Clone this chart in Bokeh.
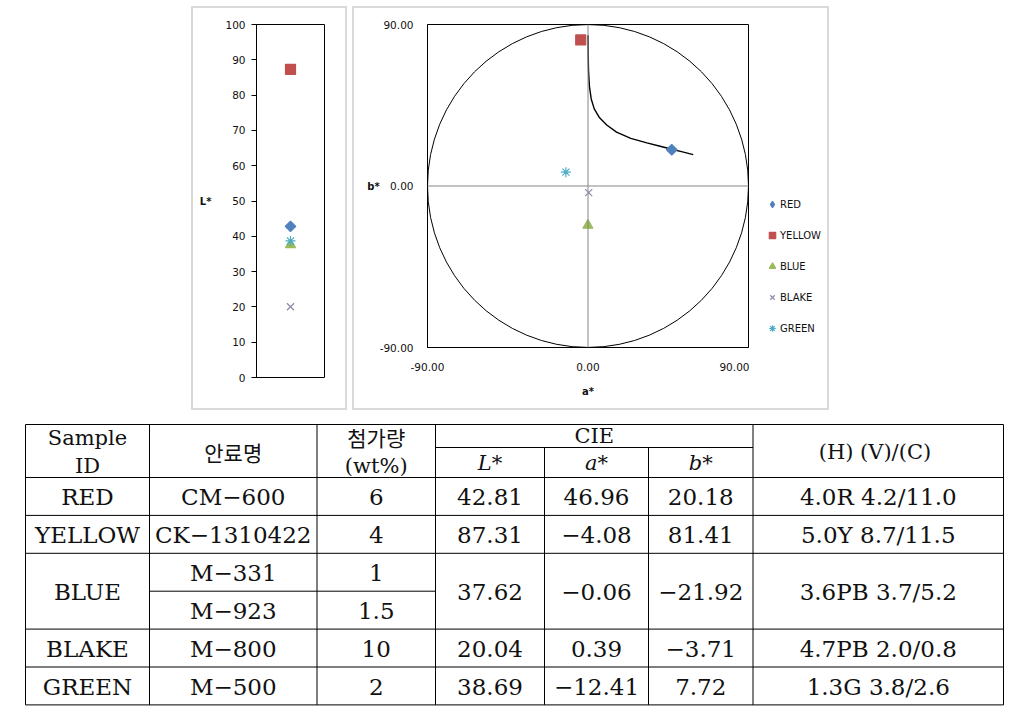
import math
from bokeh.plotting import figure
from bokeh.models import (Range1d, FixedTicker, NumeralTickFormatter, Span,
                          Legend, LegendItem, Spacer)
from bokeh.layouts import column, row
from bokeh.embed import file_html
from bokeh.resources import INLINE
from bokeh.core.properties import value

# ---------------- data ----------------
samples = ["RED", "YELLOW", "BLUE", "BLAKE", "GREEN"]
L_star = [42.81, 87.31, 37.62, 20.04, 38.69]
a_star = [46.96, -4.08, -0.06, 0.39, -12.41]
b_star = [20.18, 81.41, -21.92, -3.71, 7.72]
munsell = ["4.0R 4.2/11.0", "5.0Y 8.7/11.5", "3.6PB 3.7/5.2", "4.7PB 2.0/0.8", "1.3G 3.8/2.6"]
pigments = [["CM-600"], ["CK-1310422"], ["M-331", "M-923"], ["M-800"], ["M-500"]]
amounts = [["6"], ["4"], ["1", "1.5"], ["10"], ["2"]]

hue_a = [0.0, 0.1, 0.3, 0.8, 1.8, 3.5, 6.5, 10.5, 16.0, 24.0, 33.0, 41.0, 47.0, 53.0, 59.0]
hue_b = [84.0, 74.0, 64.0, 55.5, 48.5, 43.0, 38.0, 34.0, 30.0, 26.5, 24.0, 22.0, 20.5, 19.0, 17.5]

chroma_max = 90
L_ticks = [0, 10, 20, 30, 40, 50, 60, 70, 80, 90, 100]
ab_ticks = [-90, 0, 90]

# ---------------- styles ----------------
# RED is drawn as an Excel-style diamond (a square turned by 45 degrees)
markers = ["square", "square", "triangle", "x", "asterisk"]
legend_markers = ["diamond", "square", "triangle", "x", "asterisk"]
mangles = [math.pi / 4, 0, 0, 0, 0]
mcolors = ["#4F81BD", "#C0504D", "#9BBB59", "#8F88A8", "#4BACC6"]
msizes = [7.5, 10, 10, 10, 10]
SANS = "DejaVu Sans"
SERIF = "DejaVu Serif"
panel_style = {"outline": "2px solid #d9d9d9", "outline-offset": "-2px"}
TXT = "#111111"


def minus(s):
    return s.replace("-", "\u2212")


def horizontal_label(ax):
    if "axis_label_orientation" in ax.properties():
        ax.axis_label_orientation = "horizontal"


def add_marker(fig, x, y, i, legend_style=False):
    if legend_style:
        return fig.scatter(x=x, y=y, marker=legend_markers[i], size=msizes[i],
                           fill_color=mcolors[i], line_color=mcolors[i], line_width=1.2)
    return fig.scatter(x=x, y=y, marker=markers[i], size=msizes[i], angle=mangles[i],
                       fill_color=mcolors[i], line_color=mcolors[i], line_width=1.2)


# ---------------- L* chart ----------------
fL = figure(width=156, height=404, x_range=Range1d(0, 2), y_range=Range1d(0, 100),
            output_backend="svg", toolbar_location=None,
            min_border_left=65, min_border_right=23, min_border_top=18, min_border_bottom=33,
            border_fill_color=None, styles=panel_style)
fL.xaxis.visible = False
fL.grid.visible = False
fL.outline_line_color = "black"
fL.outline_line_width = 1
ya = fL.yaxis[0]
ya.ticker = FixedTicker(ticks=L_ticks)
ya.minor_tick_line_color = None
ya.major_tick_out = 5
ya.major_tick_in = 0
ya.axis_line_color = "black"
ya.major_tick_line_color = "black"
ya.major_label_standoff = 6
ya.major_label_text_font = SANS
ya.major_label_text_font_size = "10.5px"
ya.major_label_text_color = TXT
ya.axis_label = "L*"
horizontal_label(ya)
ya.axis_label_standoff = 11
ya.axis_label_text_font = SANS
ya.axis_label_text_font_size = "10px"
ya.axis_label_text_font_style = "bold"
ya.axis_label_text_color = TXT
for i in range(len(samples)):
    add_marker(fL, [1], [L_star[i]], i)

# ---------------- a*b* chart ----------------
fR = figure(width=397, height=404, x_range=Range1d(-90, 90), y_range=Range1d(-90, 90),
            output_backend="svg", toolbar_location=None,
            min_border_left=75, min_border_right=1, min_border_top=18, min_border_bottom=63,
            border_fill_color=None)
fR.grid.visible = False
fR.outline_line_color = "black"
fR.outline_line_width = 1
for ax in (fR.xaxis[0], fR.yaxis[0]):
    ax.ticker = FixedTicker(ticks=ab_ticks)
    ax.formatter = NumeralTickFormatter(format="0.00")
    ax.major_tick_line_color = None
    ax.minor_tick_line_color = None
    ax.major_tick_out = 0
    ax.major_tick_in = 0
    ax.axis_line_color = "black"
    ax.major_label_text_font = SANS
    ax.major_label_text_font_size = "10.5px"
    ax.major_label_text_color = TXT
    ax.axis_label_text_font = SANS
    ax.axis_label_text_font_size = "10px"
    ax.axis_label_text_font_style = "bold"
    ax.axis_label_text_color = TXT
fR.xaxis[0].major_label_standoff = 15
fR.yaxis[0].major_label_standoff = 14
fR.xaxis[0].axis_label = "a*"
fR.xaxis[0].axis_label_standoff = 12
fR.yaxis[0].axis_label = "b*"
horizontal_label(fR.yaxis[0])
fR.yaxis[0].axis_label_standoff = -3

fR.add_layout(Span(location=0, dimension="width", line_color="#868686", line_width=1))
fR.add_layout(Span(location=0, dimension="height", line_color="#868686", line_width=1))
fR.ellipse(x=[0], y=[0], width=[2 * chroma_max], height=[2 * chroma_max],
           fill_color=None, line_color="black", line_width=1)
fR.line(hue_a, hue_b, line_color="black", line_width=1.4)

for i in range(len(samples)):
    add_marker(fR, [a_star[i]], [b_star[i]], i)

# legend strip to the right of the plot area (same series styles)
fLeg = figure(width=80, height=404, x_range=Range1d(1000, 1001), y_range=Range1d(1000, 1001),
              output_backend="svg", toolbar_location=None, min_border=0,
              x_axis_type=None, y_axis_type=None, border_fill_color=None,
              background_fill_color=None)
fLeg.grid.visible = False
fLeg.outline_line_color = None
items = []
for i in range(len(samples)):
    r = add_marker(fLeg, [a_star[i]], [b_star[i]], i, legend_style=True)
    items.append(LegendItem(label=samples[i], renderers=[r]))
legend = Legend(items=items, location=(15, 11), orientation="vertical",
                glyph_width=16, glyph_height=16, label_height=16, spacing=15,
                padding=0, margin=0, label_standoff=0,
                border_line_color=None, background_fill_alpha=0,
                label_text_font=SANS, label_text_font_size="10px",
                label_text_color=TXT, label_text_baseline="middle")
fLeg.add_layout(legend)

right_panel = row(fR, fLeg, styles=panel_style)

# ---------------- table ----------------
fT = figure(width=1010, height=298, x_range=Range1d(0, 1010), y_range=Range1d(708, 410),
            output_backend="svg", toolbar_location=None, min_border=0,
            x_axis_type=None, y_axis_type=None, border_fill_color=None)
fT.grid.visible = False
fT.outline_line_color = None

col_x = [25, 149, 316.5, 435, 544, 648, 752.5, 1003]
t_top, t_cie, t_head = 424, 447, 477
row_h = 37.9
n_sub = sum(len(p) for p in pigments)
t_bot = t_head + n_sub * row_h
cx = [(col_x[k] + col_x[k + 1]) / 2 for k in range(len(col_x) - 1)]
cie_cx = (col_x[3] + col_x[6]) / 2

# horizontal lines
hx0 = [col_x[0], col_x[3], col_x[0]]
hx1 = [col_x[-1], col_x[6], col_x[-1]]
hy = [t_top, t_cie, t_head]
k = 0
for i, p in enumerate(pigments):
    for j in range(len(p)):
        k += 1
        y = t_head + k * row_h
        if j == len(p) - 1:
            hx0.append(col_x[0]); hx1.append(col_x[-1])
        else:
            hx0.append(col_x[1]); hx1.append(col_x[3])
        hy.append(y)
fT.segment(x0=hx0, y0=hy, x1=hx1, y1=hy, line_color="black", line_width=1)
# vertical lines
vx, vy0 = [], []
for idx, x in enumerate(col_x):
    vx.append(x)
    vy0.append(t_cie if idx in (4, 5) else t_top)
fT.segment(x0=vx, y0=vy0, x1=vx, y1=[t_bot] * len(vx), line_color="black", line_width=1)

# header texts
fT.text(x=[cx[0], cx[0], cx[2], cie_cx, cx[6]], y=[437, 465, 465, 435, 451],
        text=["Sample", "ID", "(wt%)", "CIE", "(H)  (V)/(C)"],
        text_font=value(SERIF), text_font_size=value("21px"), text_color=TXT,
        text_align="center", text_baseline="middle")
fT.text(x=[cx[1], cx[2]], y=[451, 436], text=["안료명", "첨가량"],
        text_font=value("Noto Sans CJK KR"), text_font_size=value("21px"), text_color=TXT,
        text_align="center", text_baseline="middle")
fT.text(x=[cx[3], cx[4], cx[5]], y=[462, 462, 462], text=["L*", "a*", "b*"],
        text_font=value(SERIF), text_font_size=value("21px"), text_font_style="italic",
        text_color=TXT, text_align="center", text_baseline="middle")

# body texts
bx, by, bt = [], [], []
k = 0
for i, s in enumerate(samples):
    n = len(pigments[i])
    yc = t_head + (k + n / 2) * row_h
    bx += [cx[0], cx[3], cx[4], cx[5], cx[6]]
    by += [yc] * 5
    bt += [s, f"{L_star[i]:.2f}", minus(f"{a_star[i]:.2f}"), minus(f"{b_star[i]:.2f}"), munsell[i]]
    for j in range(n):
        ys = t_head + (k + j + 0.5) * row_h
        bx += [cx[1], cx[2]]
        by += [ys, ys]
        bt += [minus(pigments[i][j]), amounts[i][j]]
    k += n
fT.text(x=bx, y=[v + 1 for v in by], text=bt, text_font=value(SERIF), text_font_size=value("23px"),
        text_color=TXT, text_align="center", text_baseline="middle")

layout = column(Spacer(width=1010, height=6),
                row(Spacer(width=191, height=404), fL, Spacer(width=5, height=404), right_panel),
                fT)
open("out.html", "w").write(file_html(layout, INLINE))
